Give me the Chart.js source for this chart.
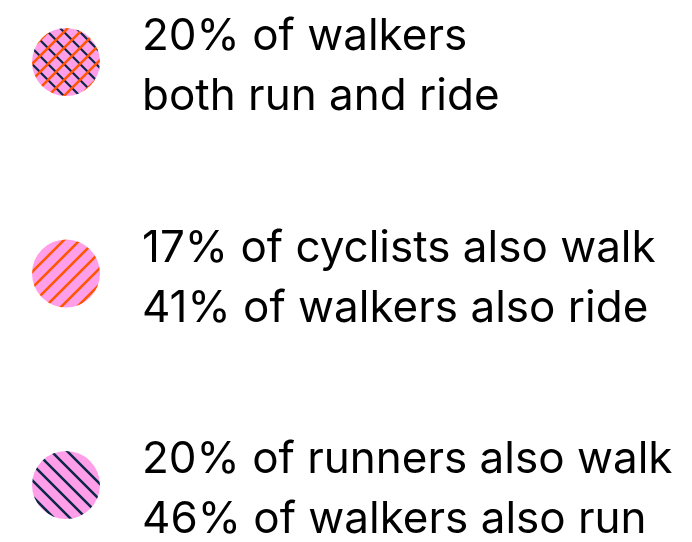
<!DOCTYPE html>
<html>
<head>
<meta charset="utf-8">
<script src="https://cdn.jsdelivr.net/npm/chart.js@4.4.1/dist/chart.umd.min.js"></script>
<style>
  body { margin: 0; background: #fff; }
  #overlap { display: block; }
</style>
</head>
<body>
<canvas id="overlap" width="692" height="542"></canvas>
<script>
// overlap groups, top to bottom
var groups = ['walk, run and ride', 'walk and ride', 'walk and run'];
var firstLines = ['20% of walkers', '17% of cyclists also walk', '20% of runners also walk'];
var secondLines = ['both run and ride', '41% of walkers also ride', '46% of walkers also run'];

var PINK = '#ff9fe9';
var ORANGE = '#ff5500';
var NAVY = '#0c2748';

// striped fill for the circles
function makePattern(slash, backslash) {
    var s = 16;
    var c = document.createElement('canvas');
    c.width = s; c.height = s;
    var ctx = c.getContext('2d');
    ctx.fillStyle = PINK;
    ctx.fillRect(0, 0, s, s);
    if (backslash) {
        ctx.lineWidth = slash ? 2.2 : 2.5;
        ctx.strokeStyle = NAVY;
        ctx.beginPath();
        ctx.moveTo(-s, 0); ctx.lineTo(s, 2 * s);
        ctx.moveTo(0, 0); ctx.lineTo(s, s);
        ctx.moveTo(0, -s); ctx.lineTo(2 * s, s);
        ctx.stroke();
    }
    if (slash) {
        ctx.lineWidth = 2.5;
        ctx.strokeStyle = ORANGE;
        ctx.beginPath();
        ctx.moveTo(-s, s); ctx.lineTo(s, -s);
        ctx.moveTo(0, s); ctx.lineTo(s, 0);
        ctx.moveTo(0, 2 * s); ctx.lineTo(2 * s, 0);
        ctx.stroke();
    }
    return ctx.createPattern(c, 'repeat');
}

var fills = [makePattern(true, true), makePattern(true, false), makePattern(false, true)];

// two lines of text next to each circle
var captionPlugin = {
    id: 'captions',
    afterDatasetsDraw: function (chart) {
        var ctx = chart.ctx;
        var meta = chart.getDatasetMeta(0);
        ctx.save();
        ctx.fillStyle = '#000';
        ctx.font = '44px Inter';
        ctx.textAlign = 'left';
        ctx.textBaseline = 'alphabetic';
        for (var i = 0; i < meta.data.length; i++) {
            var y = meta.data[i].y;
            ctx.fillText(firstLines[i], 142, y - 12);
            ctx.fillText(secondLines[i], 142, y + 48);
        }
        ctx.restore();
    }
};

new Chart(document.getElementById('overlap'), {
    type: 'scatter',
    data: {
        datasets: [{
            data: groups.map(function (g) { return { x: 0, y: g }; }),
            pointRadius: 34,
            pointHoverRadius: 34,
            pointBorderWidth: 0,
            pointBackgroundColor: fills,
            clip: false
        }]
    },
    options: {
        responsive: false,
        animation: false,
        events: [],
        layout: { padding: { left: 66, right: 20, top: 62, bottom: 57 } },
        plugins: { legend: { display: false }, tooltip: { enabled: false } },
        scales: {
            x: { type: 'linear', min: 0, max: 1, display: false },
            y: { type: 'category', labels: groups, offset: false, display: false }
        }
    },
    plugins: [captionPlugin]
});
</script>
</body>
</html>
